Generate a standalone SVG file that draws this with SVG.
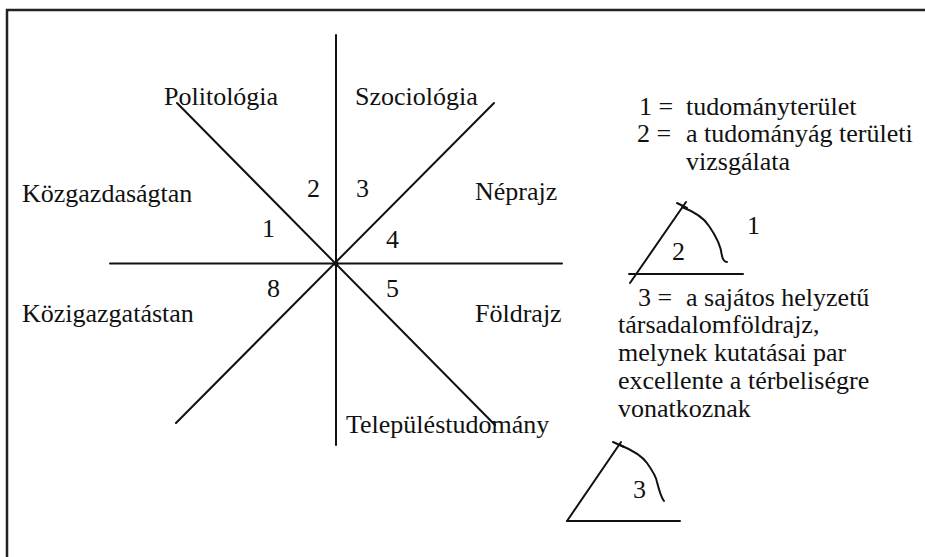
<svg xmlns="http://www.w3.org/2000/svg" width="925" height="557" viewBox="0 0 925 557">
<style>
.t{font-family:'Liberation Serif','Times New Roman','DejaVu Serif',serif;font-size:26px;fill:#111}
.ln{stroke:#111;stroke-width:2;fill:none;stroke-linecap:round}
.fr{stroke:#222;stroke-width:2.5;fill:none}
</style>
<rect width="925" height="557" fill="#fff"/>
<g id="frame"><path class="fr" d="M7,557 V10 H925"/></g>
<g id="connectors">
<line class="ln" x1="336" y1="35" x2="336" y2="445"/>
<line class="ln" x1="110" y1="263.5" x2="562" y2="263.5"/>
<line class="ln" x1="177" y1="103" x2="495" y2="425"/>
<line class="ln" x1="494" y1="103" x2="176" y2="423"/>
<circle cx="336" cy="263.5" r="2.5" fill="#111"/>
</g>
<g class="t" font-family="Liberation Serif, Times New Roman, serif" font-size="26">
<g id="n-politologia"><text x="164" y="105">Politológia</text></g>
<g id="n-szociologia"><text x="355" y="105">Szociológia</text></g>
<g id="n-kozgazdasagtan"><text x="22" y="202">Közgazdaságtan</text></g>
<g id="n-neprajz"><text x="475" y="200">Néprajz</text></g>
<g id="n-kozigazgatastan"><text x="22" y="322">Közigazgatástan</text></g>
<g id="n-foldrajz"><text x="475" y="322">Földrajz</text></g>
<g id="n-telepulestudomany"><text x="346" y="433">Településtudomány</text></g>
<g id="n-sectors">
<text x="307" y="197">2</text>
<text x="356" y="197">3</text>
<text x="262" y="237">1</text>
<text x="386" y="248">4</text>
<text x="267" y="297">8</text>
<text x="386" y="297">5</text>
</g>
<g id="legend">
<text x="639" y="115">1 =</text><text x="686" y="115">tudományterület</text>
<text x="637" y="142">2 =</text><text x="686" y="142">a tudományág területi</text>
<text x="686" y="170">vizsgálata</text>
<text x="638" y="306">3 =</text><text x="686" y="306">a sajátos helyzetű</text>
<text x="618" y="333">társadalomföldrajz,</text>
<text x="618" y="361">melynek kutatásai par</text>
<text x="618" y="389">excellente a térbeliségre</text>
<text x="618" y="417">vonatkoznak</text>
</g>
<g id="sketch-1-labels">
<text x="672" y="260">2</text>
<text x="747" y="234">1</text>
</g>
<g id="sketch-3-label"><text x="633" y="498">3</text></g>
</g>
<g id="sketch-1">
<line class="ln" x1="630" y1="283" x2="686" y2="202"/>
<line class="ln" x1="677" y1="203" x2="687" y2="208"/>
<line class="ln" x1="629" y1="274" x2="743" y2="274"/>
<path class="ln" d="M682,207 C695,212 704,218 709,226 C716,236 721,246 722,256 C723,260 725,262 727,262"/>
</g>
<g id="sketch-3">
<line class="ln" x1="567" y1="521" x2="621" y2="442"/>
<line class="ln" x1="613" y1="442" x2="624" y2="447"/>
<line class="ln" x1="567" y1="521" x2="680" y2="521"/>
<path class="ln" d="M620,445 C632,450 642,456 647,463 C652,470 656,476 657,482 C659,490 661,497 664,501"/>
</g>
</svg>
